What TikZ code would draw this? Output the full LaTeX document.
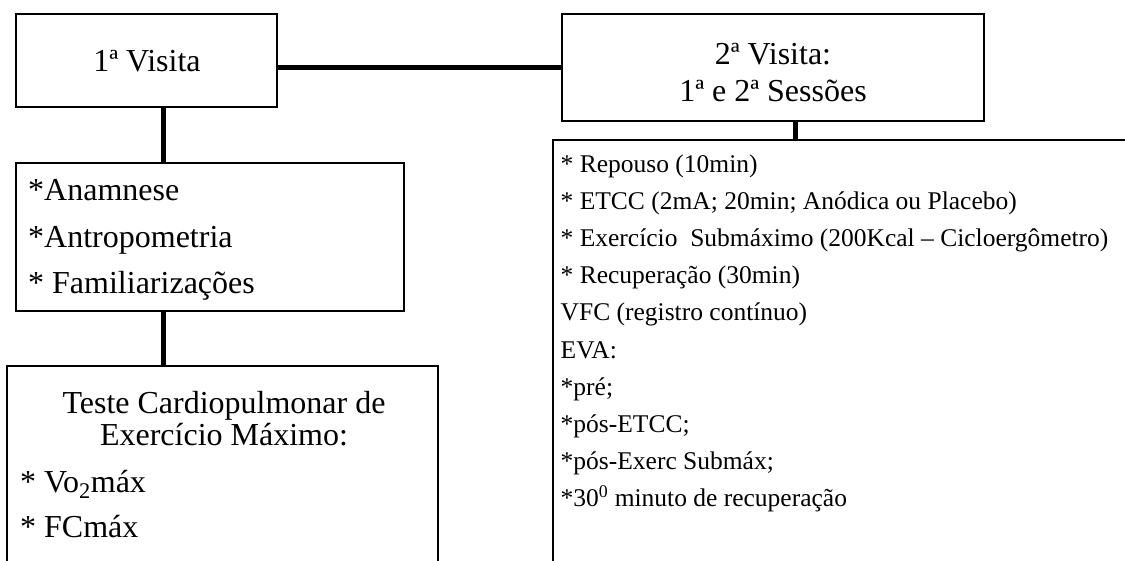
\documentclass[tikz,border=0pt]{standalone}
\usepackage{fontspec}
\setmainfont{Liberation Serif}
\usetikzlibrary{calc}
\begin{document}
\begin{tikzpicture}[x=1pt,y=-1pt,
  box/.style={draw=black, line width=1.8pt, rectangle, inner sep=0pt},
  conn/.style={draw=black, line width=5pt},
  big/.style={font=\fontsize{32}{38}\selectfont},
  small/.style={font=\fontsize{25.5}{37.2}\selectfont},
  txt/.style={anchor=base west, inner sep=0pt},
  ctxt/.style={anchor=base, inner sep=0pt}]
\useasboundingbox (0,0) rectangle (1125,560);
\clip (0,0) rectangle (1125,560);
% boxes
\node[box, minimum width=261pt, minimum height=93pt] (v1) at (146.5,60.5) {};
\node[box, minimum width=422pt, minimum height=107pt] (v2) at (773,67.5) {};
\node[box, minimum width=388pt, minimum height=148pt] (A) at (210,237) {};
\node[box, minimum width=431pt, minimum height=260pt] (B) at (222.5,496) {};
\node[box, minimum width=620pt, minimum height=480pt] (C) at (863,380) {};
% texts of v1, v2
\node[ctxt,big] (t1) at (147,71) {1ª Visita};
\node[ctxt,big] (t2) at (773,64) {2ª Visita:};
\node[ctxt,big] (t3) at (773,101) {1ª e 2ª Sessões};
% texts of A
\node[txt,big] (a1) at (28,200) {*Anamnese};
\node[txt,big] (a2) at (28,247) {*Antropometria};
\node[txt,big] (a3) at (28,293) {* Familiarizações};
% texts of B
\node[ctxt,big] (b1) at (224,413) {Teste Cardiopulmonar de};
\node[ctxt,big] (b2) at (224,445) {Exercício Máximo:};
\node[txt,big] (b3) at (20,492) {* Vo\textsubscript{2}máx};
\node[txt,big] (b4) at (20,537) {* FCmáx};
% texts of C
\foreach \t [count=\i] in {
  {* Repouso (10min)},
  {* ETCC (2mA; 20min; Anódica ou Placebo)},
  {* Exercício\ \ Submáximo (200Kcal – Cicloergômetro)},
  {* Recuperação (30min)},
  {VFC (registro contínuo)},
  {EVA:},
  {*pré;},
  {*pós-ETCC;},
  {*pós-Exerc Submáx;},
  {*30\textsuperscript{0} minuto de recuperação}}
  \node[txt,small] (c\i) at (560.5,{172+37.2*(\i-1)}) {\t};
% connectors
\coordinate (k1) at ($(v1.south)+(16.5,0)$);
\coordinate (k2) at ($(A.south)+(-47,0)$);
\coordinate (k3) at ($(v2.south)+(22,0)$);
\draw[conn] (v1.east |- v2.west) -- (v2.west);
\draw[conn] (k1) -- (k1 |- A.north);
\draw[conn] (k2) -- (k2 |- B.north);
\draw[conn] (k3) -- (k3 |- C.north);
\end{tikzpicture}
\end{document}
